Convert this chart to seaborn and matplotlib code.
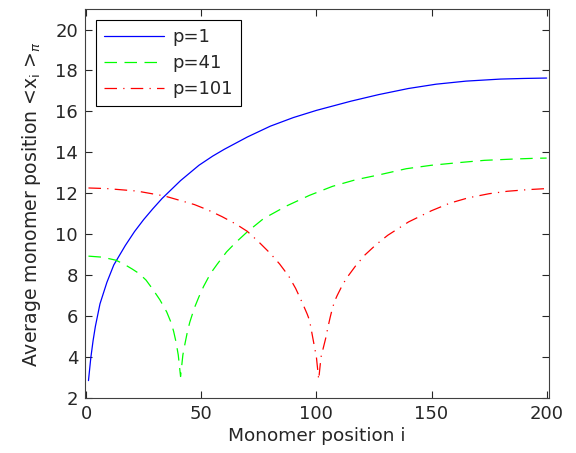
import matplotlib
matplotlib.use("Agg")
import matplotlib.pyplot as plt
import seaborn as sns
import pandas as pd

# p = 1
i_p1 = [1, 2, 3, 4, 6, 9, 12, 17, 21, 25, 29, 33, 41, 49, 55, 60, 70, 80, 90, 100, 115, 127, 140, 152, 165,
        180, 190, 200]
y_p1 = [2.85, 3.95, 4.8, 5.5, 6.6, 7.65, 8.5, 9.45, 10.13, 10.72, 11.25, 11.75, 12.62, 13.37, 13.82, 14.15,
        14.75, 15.28, 15.7, 16.05, 16.5, 16.82, 17.12, 17.33, 17.48, 17.58, 17.61, 17.63]

# p = 41
i_p41 = [1, 7, 13, 17, 20, 23, 26, 29, 32, 35, 37, 38, 39, 40, 41, 42, 43, 44, 45, 47, 49, 51, 54, 57, 61,
         65, 70, 77, 87, 97, 107, 117, 128, 139, 150, 162, 173, 185, 195, 200]
y_p41 = [8.93, 8.88, 8.73, 8.5, 8.3, 8.08, 7.76, 7.3, 6.8, 6.2, 5.65, 5.25, 4.75, 4.1, 3.05, 4.1, 4.7, 5.25,
         5.7, 6.4, 6.95, 7.45, 8.08, 8.55, 9.14, 9.6, 10.12, 10.76, 11.38, 11.9, 12.34, 12.66, 12.92, 13.2,
         13.37, 13.5, 13.61, 13.67, 13.71, 13.72]

# p = 101
i_p101 = [1, 9, 22, 34, 47, 53, 59, 65, 70, 75, 80, 84, 88, 91, 94, 96, 97, 98, 99, 100, 101, 102, 103, 104,
          105, 106, 107, 108, 109, 111, 113, 117, 121, 126, 131, 140, 150, 158, 166, 175, 183, 192, 200]
y_p101 = [12.26, 12.23, 12.11, 11.87, 11.45, 11.18, 10.86, 10.5, 10.14, 9.62, 9.06, 8.55, 7.95, 7.35, 6.62,
          6.1, 5.8, 5.2, 4.6, 4.0, 2.9, 4.0, 4.45, 4.9, 5.45, 5.95, 6.4, 6.75, 7.0, 7.45, 7.84, 8.45, 8.98,
          9.5, 9.95, 10.6, 11.15, 11.52, 11.78, 11.98, 12.1, 12.18, 12.23]

labels = ["p=1", "p=41", "p=101"]
x_ticks = [0, 50, 100, 150, 200]
y_ticks = [2, 4, 6, 8, 10, 12, 14, 16, 18, 20]

df = pd.concat([
    pd.DataFrame({"i": i_p1, "x": y_p1, "p": labels[0]}),
    pd.DataFrame({"i": i_p41, "x": y_p41, "p": labels[1]}),
    pd.DataFrame({"i": i_p101, "x": y_p101, "p": labels[2]}),
])

sns.set_style("ticks")
plt.rcParams["font.family"] = ["DejaVu Sans"]

fig = plt.figure(figsize=(5.76, 4.53), dpi=100)
ax = fig.add_axes([0.1476, 0.1214, 0.8054, 0.8586])

palette = {"p=1": "#0000ff", "p=41": "#00ff00", "p=101": "#ff0000"}
dashes = {"p=1": "", "p=41": (10, 6), "p=101": (10, 5, 1, 5)}
sns.lineplot(data=df, x="i", y="x", hue="p", style="p", palette=palette, dashes=dashes,
             linewidth=0.9, ax=ax, sort=False, estimator=None)

ax.set_xlim(-0.5, 201)
ax.set_ylim(2, 21)
ax.set_xticks(x_ticks)
ax.set_yticks(y_ticks)
ax.tick_params(direction="in", top=True, right=True, labelsize=13, length=5, width=0.8, pad=5)
for s in ax.spines.values():
    s.set_linewidth(0.8)
    s.set_color("#404040")

ax.set_xlabel("Monomer position i", fontsize=13.3, labelpad=3)
ax.set_ylabel(r"Average monomer position <x$_{\rm i}$ >$_\pi$", fontsize=13.6, labelpad=9)

leg = ax.legend(loc="upper left", fontsize=13, frameon=True, fancybox=False, framealpha=1,
                edgecolor="black", handlelength=3.3, borderpad=0.45, labelspacing=0.45,
                handletextpad=0.5, borderaxespad=0.6)
leg.get_frame().set_linewidth(0.8)

fig.savefig("out.png", dpi=100)
